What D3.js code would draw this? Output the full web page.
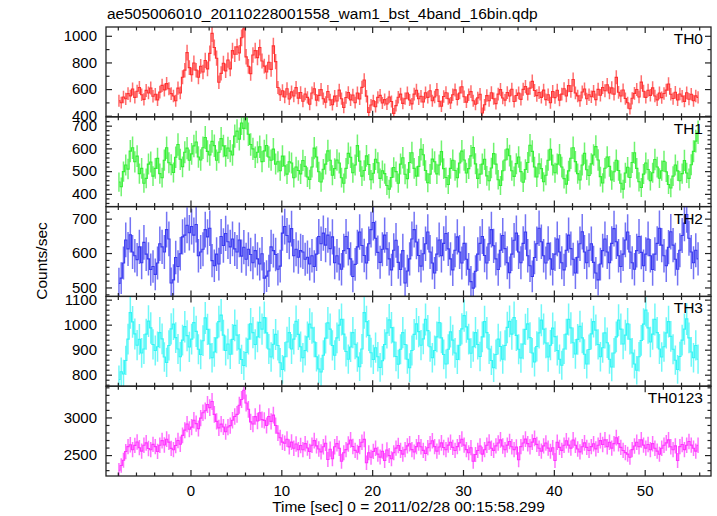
<!DOCTYPE html>
<html><head><meta charset="utf-8">
<script src="https://cdn.jsdelivr.net/npm/d3@7"></script>
<style>
html,body{margin:0;padding:0;background:#fff;}
svg{display:block;font-family:"Liberation Sans",Arial,Helvetica,sans-serif;}
</style></head>
<body>
<svg id="c" width="717" height="516"></svg>
<script>
// ---- data ----
const title = "ae505006010_20110228001558_wam1_bst_4band_16bin.qdp";
const xLabel = "Time [sec] 0 = 2011/02/28 00:15:58.299";
const yLabel = "Counts/sec";
const binStart = -7.875;   // centre of first 0.25 s bin
const binWidth = 0.25;
const xTicks = [0, 10, 20, 30, 40, 50];
const panelNames = ["TH0", "TH1", "TH2", "TH3", "TH0123"];

const th0 = [
512,498,541,527,566,549,601,538,584,612,557,523,590,571,608,546,
561,519,577,628,594,641,603,566,548,512,607,571,689,742,874,761,
708,796,742,689,771,728,815,752,868,1018,912,832,651,718,794,737,
818,752,889,862,917,871,985,1052,842,771,716,856,889,836,912,811,
772,728,801,748,924,806,612,558,587,541,603,526,579,548,611,532,
574,509,563,538,486,571,602,517,553,596,528,501,582,519,483,547,
511,592,528,462,537,574,519,556,498,571,526,613,668,547,425,481,
512,467,538,553,496,521,488,541,507,418,476,539,562,493,528,571,
518,489,562,591,527,546,503,572,538,587,512,541,596,508,471,544,
573,528,496,557,594,522,571,617,543,502,558,581,512,486,534,561,
421,482,551,512,573,528,491,562,596,533,517,574,548,599,507,552,
571,523,598,619,562,607,658,589,551,574,538,592,521,558,497,582,
536,591,517,562,603,548,626,583,672,571,549,512,578,601,527,558,
542,583,521,598,554,612,587,633,571,609,562,688,576,548,593,529,
497,452,531,568,597,541,652,584,538,591,553,609,548,519,571,536,
567,592,638,561,529,576,518,563,547,508,572,524,561,512,549,538];

const th1 = [
452,431,498,527,509,588,603,541,566,489,512,447,468,531,540,478,
512,556,489,471,548,603,537,528,494,561,617,552,519,583,601,548,
576,611,628,562,549,603,648,587,571,631,612,548,583,643,611,567,
602,588,571,654,676,641,712,688,738,662,617,598,561,583,607,542,
589,613,562,548,597,531,541,502,566,523,487,541,536,471,518,503,
488,547,521,474,463,518,601,562,497,452,508,531,589,548,482,511,
549,536,471,447,512,578,561,493,527,612,544,478,503,567,529,462,
491,552,537,468,502,489,437,421,472,516,498,447,531,559,486,467,
538,581,512,478,521,596,572,503,449,487,553,541,488,527,586,511,
472,441,512,548,503,471,536,588,549,492,511,567,604,532,468,487,
531,552,479,458,514,577,531,462,437,502,549,597,568,502,477,533,
562,498,451,507,538,614,587,518,474,532,511,453,482,548,596,527,
493,531,572,518,467,443,501,557,603,542,489,461,527,578,506,481,
532,571,608,549,476,448,513,562,521,461,497,548,503,447,421,492,
517,472,538,581,512,453,428,487,536,507,458,493,551,518,469,502,
543,497,441,426,478,527,501,458,489,547,492,468,528,587,632,671];

const th2 = [
512,527,571,638,612,653,603,592,581,618,572,631,597,583,552,561,
538,571,627,618,603,668,641,513,522,587,561,598,647,652,681,659,
677,652,683,592,603,611,668,647,672,578,563,597,568,648,622,657,
633,618,641,612,603,638,591,617,582,611,596,572,607,583,568,598,
527,533,548,618,607,596,553,562,658,677,651,632,671,592,611,588,
607,603,582,588,568,592,561,597,648,627,658,623,652,613,647,572,
592,568,553,607,648,613,583,532,567,618,661,622,593,571,627,668,
689,643,602,573,611,652,612,583,551,608,637,573,552,607,513,548,
583,641,668,632,593,562,598,627,661,603,571,542,597,638,592,628,
657,612,583,551,608,647,603,571,628,582,553,517,498,547,597,628,
648,593,571,627,668,621,583,552,608,651,613,572,543,597,637,658,
603,572,628,661,592,563,532,587,627,672,633,592,571,628,583,553,
597,641,603,572,551,608,652,613,582,542,588,627,662,603,572,608,
627,573,542,522,568,607,641,603,572,628,671,633,592,561,597,638,
661,603,572,553,607,648,602,563,597,641,592,552,597,628,672,623,
592,563,617,662,623,582,553,608,651,687,712,643,603,572,608,583];

const th3 = [
781,812,803,857,942,1048,1011,963,918,941,887,903,962,1014,987,921,
897,912,968,943,871,849,917,983,1002,948,903,872,938,992,956,911,
942,1008,973,902,881,936,1027,981,923,868,891,947,1012,1038,958,897,
923,882,941,997,958,903,861,837,889,942,1003,968,921,951,1009,982,
1028,967,903,871,922,961,917,848,821,872,931,968,903,942,1013,961,
912,868,897,951,1002,987,931,872,823,811,878,946,1007,982,917,878,
947,998,1021,962,893,862,911,968,922,871,832,903,1048,1012,957,888,
861,908,872,829,856,921,967,1019,988,931,873,842,902,968,921,862,
828,897,961,1003,972,918,943,1021,976,912,868,897,951,1008,947,881,
843,902,971,938,887,861,918,983,1036,991,942,886,912,968,921,873,
951,1012,968,903,857,828,881,942,913,862,917,989,1013,962,1028,957,
902,867,923,981,1003,948,887,851,913,967,1018,982,927,871,918,986,
952,897,862,838,903,962,1021,987,928,883,941,993,947,882,843,901,
963,1012,978,921,872,908,967,928,862,831,887,951,1018,982,923,958,
1003,942,887,843,818,872,937,1002,1058,987,931,962,1021,968,903,871,
912,967,1012,953,902,858,821,873,938,982,1023,947,891,868,917,862];

const th0123 = [
2298,2362,2431,2547,2612,2638,2571,2629,2674,2598,2552,2631,2662,2587,2571,2642,
2612,2548,2631,2692,2633,2711,2672,2589,2571,2628,2694,2643,2762,2831,2912,2843,
2871,2962,2918,2852,2991,3062,3088,3172,3131,3212,3041,2948,2862,2911,2873,2809,
2872,2891,2962,3012,3041,3162,3238,3362,3192,3108,2941,2912,3011,2952,3062,2971,
2961,2893,3012,2948,3031,2892,2791,2731,2672,2658,2711,2609,2672,2591,2648,2571,
2628,2571,2652,2593,2548,2631,2692,2622,2581,2542,2611,2658,2441,2578,2452,2611,
2652,2591,2418,2531,2572,2648,2701,2613,2562,2538,2612,2671,2708,2398,2531,2472,
2548,2591,2512,2473,2551,2428,2568,2493,2452,2531,2592,2628,2561,2512,2571,2622,
2651,2572,2541,2612,2662,2611,2562,2521,2598,2651,2691,2612,2553,2608,2662,2601,
2571,2632,2671,2602,2561,2612,2662,2711,2632,2572,2531,2598,2418,2508,2561,2621,
2512,2571,2631,2672,2591,2562,2622,2661,2702,2621,2571,2632,2681,2611,2572,2608,
2438,2612,2661,2712,2652,2611,2672,2721,2642,2591,2552,2622,2661,2592,2551,2598,
2428,2671,2602,2562,2631,2691,2632,2592,2701,2631,2581,2542,2611,2662,2602,2561,
2612,2651,2582,2631,2692,2641,2702,2611,2671,2592,2652,2731,2652,2602,2561,2532,
2512,2471,2572,2621,2671,2611,2702,2632,2592,2641,2571,2652,2591,2552,2511,2591,
2631,2662,2702,2611,2571,2622,2428,2612,2641,2572,2631,2681,2632,2591,2552,2631];

const seriesValues = [th0, th1, th2, th3, th0123];
const yDomains = [[392, 1066], [344, 739], [474, 735], [754, 1113], [2222, 3415]];
const yMajorTicks = [[400, 600, 800, 1000], [400, 500, 600, 700], [500, 600, 700], [800, 900, 1000, 1100], [2500, 3000]];
const yMinorSteps = [100, 20, 20, 20, 100];
const colors = ["#ff3030", "#33ee33", "#3838f0", "#33f5f5", "#ff33ff"];

// ---- layout ----
const pL = 106, pR = 711, pT = 27, pB = 476;
const nP = seriesValues.length;
const pH = (pB - pT) / nP;
const svg = d3.select("#c");
const times = d3.range(th0.length).map(i => binStart + i * binWidth);

const x = d3.scaleLinear().domain([-9.3, 57.3]).range([pL, pR]);
const xMinor = d3.range(-8, 57, 2).filter(v => v % 10 !== 0);
const axisColor = "#222";

svg.append("text").attr("x", 107).attr("y", 19).attr("font-size", 15.5).text(title);

seriesValues.forEach((vals, p) => {
  const y0 = pT + p * pH, y1 = y0 + pH;
  const y = d3.scaleLinear().domain(yDomains[p]).range([y1, y0]);
  const g = svg.append("g");
  const clipId = "clip" + p;
  svg.append("clipPath").attr("id", clipId).append("rect")
    .attr("x", pL).attr("y", y0).attr("width", pR - pL).attr("height", pH);
  const dg = g.append("g").attr("clip-path", `url(#${clipId})`);
  const col = colors[p];
  dg.selectAll("line.err").data(vals).join("line")
    .attr("x1", (d, i) => x(times[i])).attr("x2", (d, i) => x(times[i]))
    .attr("y1", d => y(d - 2 * Math.sqrt(d))).attr("y2", d => y(d + 2 * Math.sqrt(d)))
    .attr("stroke", col).attr("stroke-width", 1.5).attr("stroke-opacity", 0.7);
  const pts = vals.map((d, i) => [times[i], d]);
  const line = d3.line().x(d => x(d[0])).y(d => y(d[1])).curve(d3.curveStep);
  dg.append("path").attr("d", line(pts)).attr("fill", "none")
    .attr("stroke", col).attr("stroke-width", 1.1);

  g.append("rect").attr("x", pL).attr("y", y0).attr("width", pR - pL).attr("height", pH)
    .attr("fill", "none").attr("stroke", axisColor).attr("stroke-width", 1.3);

  const yMinorVals = d3.range(Math.ceil(yDomains[p][0] / yMinorSteps[p]) * yMinorSteps[p], yDomains[p][1], yMinorSteps[p])
    .filter(v => !yMajorTicks[p].includes(v));
  const yl = g.append("g").attr("transform", `translate(${pL},0)`)
    .call(d3.axisLeft(y).tickValues(yMajorTicks[p]).tickSizeInner(-6).tickSizeOuter(0).tickPadding(9).tickFormat(d3.format("d")));
  yl.append("g").call(d3.axisLeft(y).tickValues(yMinorVals).tickSizeInner(-3.5).tickSizeOuter(0).tickFormat(""));
  const yr = g.append("g").attr("transform", `translate(${pR},0)`)
    .call(d3.axisRight(y).tickValues(yMajorTicks[p]).tickSizeInner(-6).tickSizeOuter(0).tickFormat(""));
  yr.append("g").call(d3.axisRight(y).tickValues(yMinorVals).tickSizeInner(-3.5).tickSizeOuter(0).tickFormat(""));

  const isLast = p === nP - 1;
  const xb = g.append("g").attr("transform", `translate(0,${y1})`)
    .call(d3.axisBottom(x).tickValues(xTicks).tickSizeInner(-6).tickSizeOuter(0).tickPadding(9)
      .tickFormat(isLast ? d3.format("d") : ""));
  xb.append("g").call(d3.axisBottom(x).tickValues(xMinor).tickSizeInner(-3.5).tickSizeOuter(0).tickFormat(""));
  const xt = g.append("g").attr("transform", `translate(0,${y0})`)
    .call(d3.axisTop(x).tickValues(xTicks).tickSizeInner(-6).tickSizeOuter(0).tickFormat(""));
  xt.append("g").call(d3.axisTop(x).tickValues(xMinor).tickSizeInner(-3.5).tickSizeOuter(0).tickFormat(""));

  g.selectAll(".domain").remove();
  g.selectAll(".tick line").attr("stroke", axisColor).attr("stroke-width", 1.2);
  g.selectAll(".tick text").attr("font-size", 15).attr("fill", "#000")
    .attr("font-family", '"Liberation Sans",Arial,Helvetica,sans-serif');

  g.append("text").attr("x", 703).attr("y", y0 + 17).attr("text-anchor", "end")
    .attr("font-size", 15.5).text(panelNames[p]);
});

svg.append("text").attr("x", (pL + pR) / 2).attr("y", 512).attr("text-anchor", "middle")
  .attr("font-size", 15.5).text(xLabel);
svg.append("text").attr("transform", "translate(47,261) rotate(-90)").attr("text-anchor", "middle")
  .attr("font-size", 15.5).text(yLabel);
</script>
</body></html>
